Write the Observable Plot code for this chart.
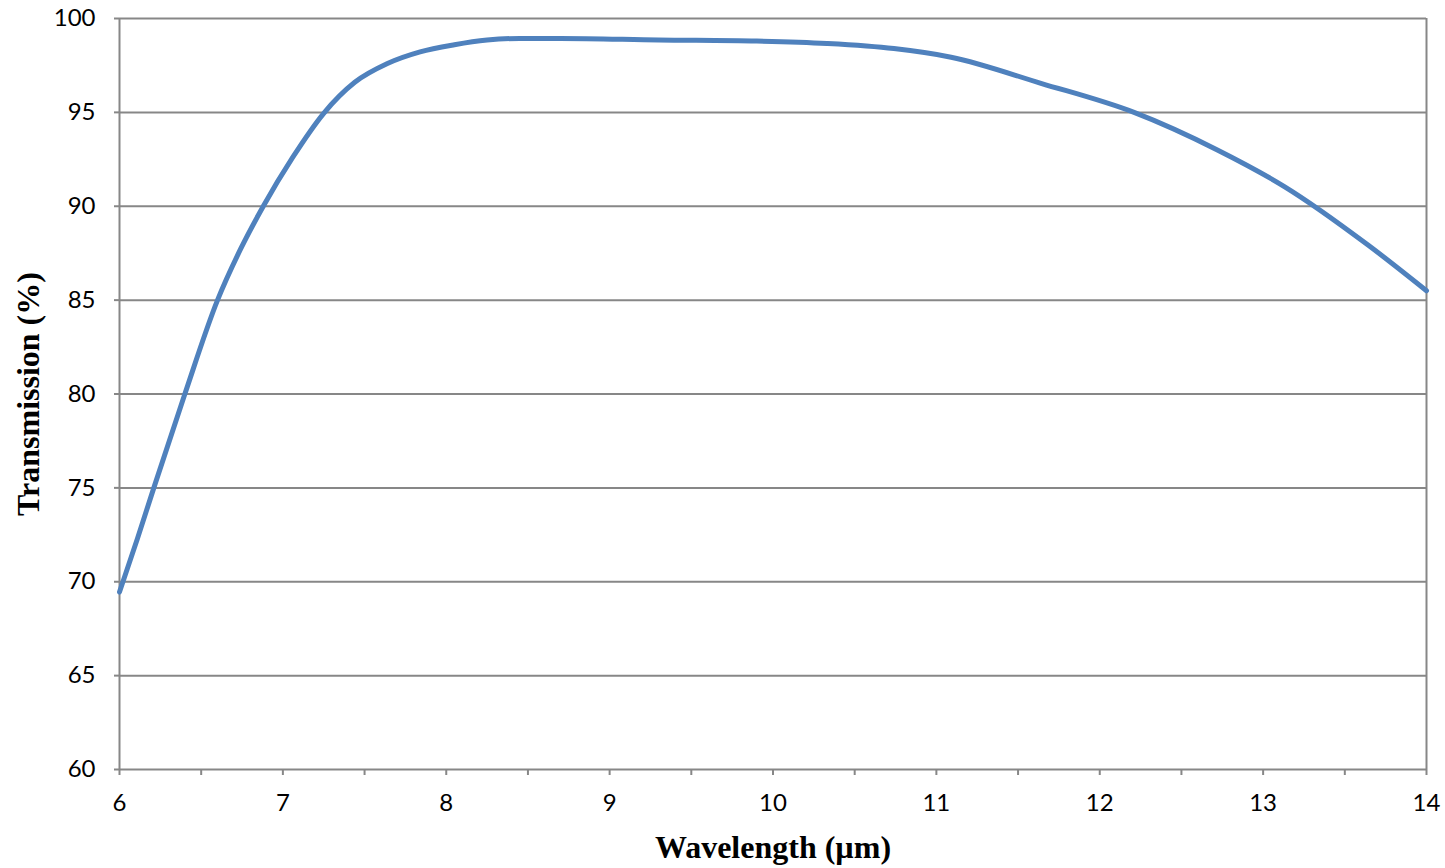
<!DOCTYPE html>
<html>
<head>
<meta charset="utf-8">
<script src="https://cdn.jsdelivr.net/npm/d3@7"></script>
<script src="https://cdn.jsdelivr.net/npm/@observablehq/plot@0.6"></script>
<style>
  html, body { margin: 0; padding: 0; background: #ffffff; }
  #chart svg { display: block; }
</style>
</head>
<body>
<div id="chart"></div>
<script>
// Wavelength (µm)
const wavelength = [6.0, 6.11, 6.21, 6.40, 6.60, 6.74, 6.88, 7.06, 7.25, 7.44, 7.64, 7.84, 8.05, 8.25, 8.45, 8.70, 9.30, 9.90, 10.33, 10.74, 11.09, 11.64, 12.21, 12.72, 13.13, 13.64, 14.0];
// Transmission (%)
const transmission = [69.45, 72.3, 75.0, 80.0, 85.0, 87.7, 90.0, 92.6, 94.95, 96.6, 97.6, 98.22, 98.6, 98.85, 98.94, 98.94, 98.86, 98.8, 98.67, 98.4, 97.94, 96.55, 95.0, 93.0, 91.05, 87.95, 85.5];

const xTicks = [6, 7, 8, 9, 10, 11, 12, 13, 14];
const xMinorTicks = [6.5, 7.5, 8.5, 9.5, 10.5, 11.5, 12.5, 13.5];
const yTicks = [60, 65, 70, 75, 80, 85, 90, 95, 100];
const xTitle = "Wavelength (µm)";
const yTitle = "Transmission (%)";

const data = wavelength.map((w, i) => ({w, t: transmission[i]}));

const gray = "#878787";
const tickFont = "Lato, 'Open Sans', sans-serif";
const titleFont = "'Liberation Serif', 'DejaVu Serif', serif";

const chart = Plot.plot({
  width: 1445,
  height: 868,
  marginLeft: 119,
  marginRight: 19,
  marginTop: 18,
  marginBottom: 99,
  style: {background: "#ffffff", color: "#000000"},
  x: {domain: [6, 14], label: null},
  y: {domain: [60, 100], label: null},
  marks: [
    Plot.ruleY(yTicks, {stroke: gray, strokeWidth: 2}),
    Plot.ruleX([6, 14], {stroke: gray, strokeWidth: 2}),
    Plot.axisX({ticks: xTicks, tickSize: 6, tickPadding: 18, stroke: gray, strokeWidth: 2, strokeOpacity: 1,
      fontSize: 24, fontFamily: tickFont, fill: "#000", label: null, tickFormat: d => String(d)}),
    Plot.axisX({ticks: xMinorTicks, tickSize: 6, stroke: gray, strokeWidth: 2, strokeOpacity: 1, text: null, label: null}),
    Plot.axisX({ticks: [], label: xTitle, labelAnchor: "center", labelOffset: 88, labelArrow: "none",
      fontSize: 32, fontFamily: titleFont, fontWeight: "bold", fill: "#000"}),
    Plot.axisY({ticks: yTicks, tickSize: 5, tickPadding: 19, stroke: gray, strokeWidth: 2, strokeOpacity: 1,
      fontSize: 24, fontFamily: tickFont, fill: "#000", label: null}),
    Plot.axisY({ticks: [], label: yTitle, labelAnchor: "center", labelOffset: 103, labelArrow: "none",
      fontSize: 32, fontFamily: titleFont, fontWeight: "bold", fill: "#000"}),
    Plot.line(data, {x: "w", y: "t", stroke: "#4F81BD", strokeWidth: 5, curve: "monotone-x"})
  ]
});
document.getElementById("chart").appendChild(chart);
</script>
</body>
</html>
